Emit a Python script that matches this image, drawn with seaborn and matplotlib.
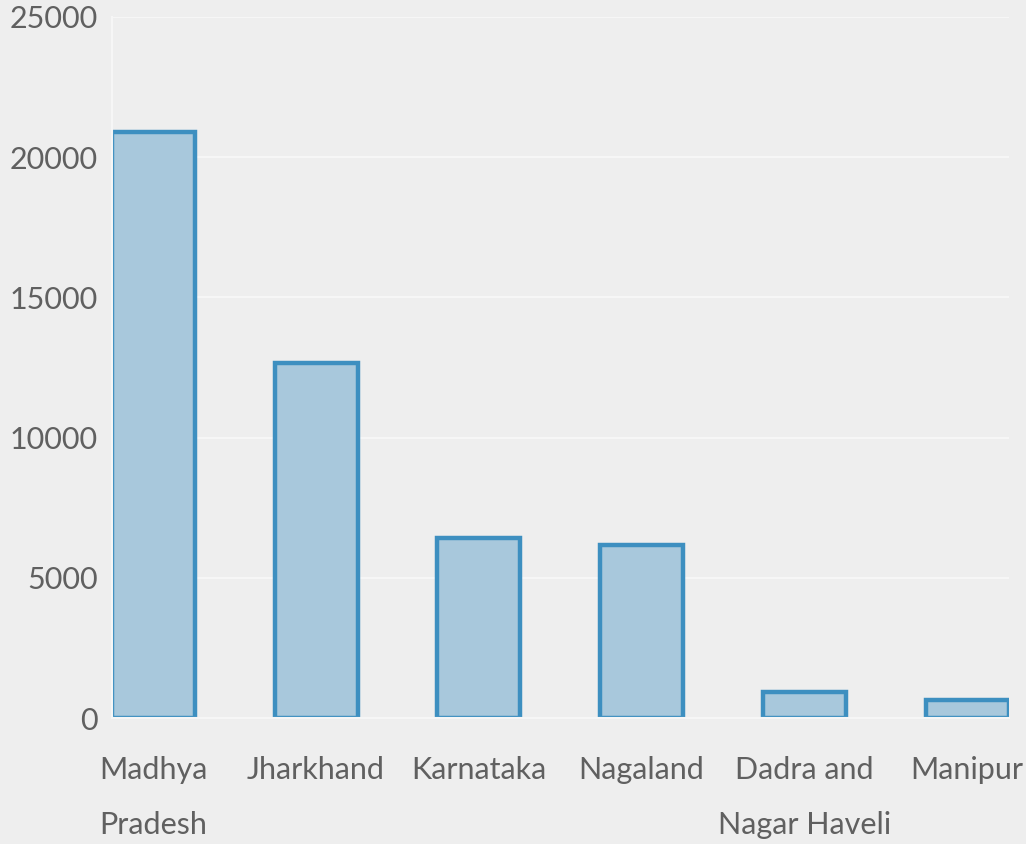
import pandas as pd
import seaborn as sns
import matplotlib.pyplot as plt

states = ['Madhya\nPradesh', 'Jharkhand', 'Karnataka', 'Nagaland', 'Dadra and\nNagar Haveli', 'Manipur']
values = [20900, 12650, 6420, 6170, 950, 640]
yticks = [0, 5000, 10000, 15000, 20000, 25000]

df = pd.DataFrame({'state': states, 'value': values})

sns.set_style('white')
plt.rcParams['font.family'] = ['Lato', 'DejaVu Sans']

fig = plt.figure(figsize=(10.26, 8.44), dpi=100, facecolor='#eeeeee')
ax = fig.add_axes([0.109, 0.149, 0.874, 0.831])
ax.set_facecolor('#eeeeee')

sns.barplot(x='state', y='value', data=df, color='#a8c8dc', saturation=1,
            edgecolor='#3d8fc0', linewidth=3.2, width=0.51, ax=ax)

ax.set_xlim(-0.255, 5.255)
ax.set_ylim(0, 25000)
ax.set_yticks(yticks)
ax.set_yticklabels([str(v) for v in yticks])
ax.grid(axis='y', color='#f6f6f6', linewidth=1.5)
ax.set_axisbelow(True)
for s in ['top', 'right']:
    ax.spines[s].set_visible(False)
ax.spines['left'].set_color('#f6f6f6')
ax.spines['bottom'].set_color('#f6f6f6')
ax.spines['left'].set_linewidth(1.5)
ax.spines['bottom'].set_linewidth(1.5)
ax.tick_params(axis='x', colors='#f6f6f6', labelcolor='#606060', labelsize=22,
               length=8, width=1.5, pad=19)
ax.tick_params(axis='y', labelcolor='#606060', labelsize=22, length=0, pad=10)
for lbl in ax.get_xticklabels():
    lbl.set_linespacing(2.2)
    lbl.set_verticalalignment('top')
ax.set_xlabel('')
ax.set_ylabel('')

plt.savefig('out.png', dpi=100, facecolor='#eeeeee')
